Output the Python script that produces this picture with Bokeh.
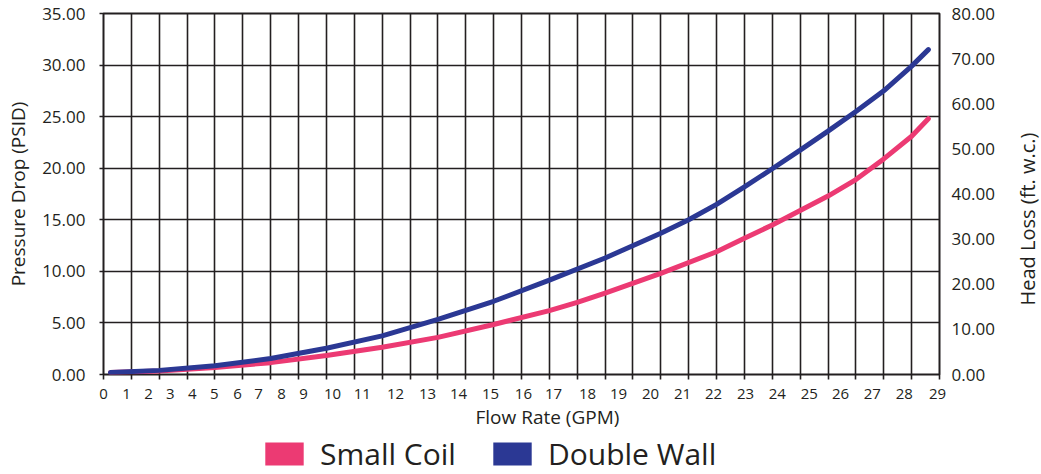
import math
from bokeh.plotting import figure
from bokeh.layouts import row, column
from bokeh.models import (Range1d, LinearAxis, FixedTicker, NumeralTickFormatter,
                          Legend, LegendItem, ColumnDataSource, Title)
from bokeh.embed import file_html
from bokeh.resources import INLINE

# ---- data (x in chart grid columns, y in PSID) ----
sc_pos = [0.25, 2, 4, 6, 8, 10, 12, 14, 16, 17, 18, 20, 22, 23, 24, 25, 26, 27, 28, 29, 29.6]
small_coil = [0.19, 0.35, 0.68, 1.15, 1.85, 2.65, 3.6, 4.85, 6.2, 7.0, 7.9, 9.8, 11.9,
              13.2, 14.5, 15.9, 17.3, 18.9, 20.9, 23.1, 24.8]
dw_pos = [0.25, 2, 4, 6, 8, 10, 12, 14, 16, 18, 20, 21, 22, 23, 24, 25, 26, 27, 28, 29, 29.6]
double_wall = [0.19, 0.4, 0.85, 1.55, 2.55, 3.75, 5.35, 7.1, 9.15, 11.3, 13.7, 15.0,
               16.5, 18.2, 19.95, 21.75, 23.6, 25.5, 27.5, 29.9, 31.5]

x_tick_labels = [str(i) for i in range(30)]
x_label_pos = [0.0, 0.83, 1.62, 2.40, 3.19, 3.98, 4.81, 5.56, 6.39, 7.18, 8.22,
               9.29, 10.48, 11.63, 12.74, 13.89, 15.07, 16.15, 17.37, 18.48,
               19.63, 20.78, 21.89, 23.04, 24.18, 25.33, 26.45, 27.59, 28.74, 29.93]
grid_cols = list(range(0, 31))
psid_ticks = [0, 5, 10, 15, 20, 25, 30, 35]
head_ticks = [0, 10, 20, 30, 40, 50, 60, 70, 80]

PINK = "#EC3A73"
BLUE = "#2B3894"
INK = "#231F20"
FONT = "Open Sans"

src_sc = ColumnDataSource(dict(x=sc_pos, y=small_coil))
src_dw = ColumnDataSource(dict(x=dw_pos, y=double_wall))

p = figure(frame_width=836, frame_height=361,
           min_border_left=103, min_border_right=72, min_border_top=13, min_border_bottom=60,
           x_range=Range1d(0, 30), y_range=Range1d(0, 35),
           output_backend="svg", toolbar_location=None, y_axis_location=None,
           x_axis_location=None)
p.extra_y_ranges = {"head": Range1d(0, 80)}
p.outline_line_color = INK
p.outline_line_width = 2
p.background_fill_color = "white"
p.border_fill_color = "white"

# grids
p.xgrid.ticker = FixedTicker(ticks=grid_cols)
p.ygrid.ticker = FixedTicker(ticks=psid_ticks)
for g in (p.xgrid, p.ygrid):
    g.grid_line_color = INK
    g.grid_line_width = 1.6
    g.grid_line_alpha = 1.0

# left axis
ly = LinearAxis(ticker=FixedTicker(ticks=psid_ticks),
                formatter=NumeralTickFormatter(format="0.00"),
                axis_label="Pressure Drop (PSID)")
ly.major_tick_out = 4
ly.major_tick_in = 0
ly.minor_tick_out = 0
ly.minor_tick_in = 0
ly.major_label_standoff = 14
ly.axis_label_standoff = 8
ly.axis_line_color = None
ly.major_tick_line_color = INK
ly.major_tick_line_width = 1.6
ly.major_label_text_font = FONT
ly.major_label_text_font_size = "17px"
ly.major_label_text_color = INK
ly.axis_label_text_font = FONT
ly.axis_label_text_font_size = "19px"
ly.axis_label_text_font_style = "normal"
ly.axis_label_text_color = INK
p.add_layout(ly, "left")

# right axis (its title is drawn in the narrow strip figure on the right)
ry = LinearAxis(y_range_name="head", ticker=FixedTicker(ticks=head_ticks),
                formatter=NumeralTickFormatter(format="0.00"))
ry.major_tick_out = 0
ry.major_tick_in = 0
ry.minor_tick_out = 0
ry.minor_tick_in = 0
ry.major_label_standoff = 12
ry.axis_line_color = None
ry.major_tick_line_color = None
ry.major_label_text_font = FONT
ry.major_label_text_font_size = "17px"
ry.major_label_text_color = INK
p.add_layout(ry, "right")

# bottom axis: labels at their printed spots, tick marks at grid columns
bx = LinearAxis(ticker=FixedTicker(ticks=x_label_pos, minor_ticks=grid_cols))
bx.major_label_overrides = {pos: lab for pos, lab in zip(x_label_pos, x_tick_labels)}
bx.major_tick_out = 0
bx.major_tick_in = 0
bx.major_tick_line_color = None
bx.minor_tick_out = 5
bx.minor_tick_in = 0
bx.minor_tick_line_color = INK
bx.minor_tick_line_width = 1.6
bx.axis_line_color = None
bx.major_label_standoff = 9
bx.major_label_text_font = FONT
bx.major_label_text_font_size = "15px"
bx.major_label_text_color = INK
p.add_layout(bx, "below")

# x axis title (offset to the right as in the original)
xt = Title(text="Flow Rate (GPM)", align="left", offset=372, standoff=0,
           text_font=FONT, text_font_size="19px", text_font_style="normal",
           text_color=INK)
p.add_layout(xt, "below")

# curves
p.line("x", "y", source=src_sc, line_color=PINK, line_width=5, line_cap="round")
p.line("x", "y", source=src_dw, line_color=BLUE, line_width=5, line_cap="round")

# narrow strip on the right holding the right-hand axis title (reads bottom-to-top)
p2 = figure(frame_width=1, frame_height=361, min_border_left=0, min_border_right=0,
            min_border_top=13, min_border_bottom=60,
            x_range=Range1d(0, 1), y_range=Range1d(0, 1),
            output_backend="svg", toolbar_location=None,
            x_axis_location=None, y_axis_location=None)
p2.outline_line_color = None
p2.xgrid.visible = False
p2.ygrid.visible = False
p2.border_fill_color = "white"
p2.background_fill_color = "white"
rt = Title(text="Head Loss (ft. w.c.)", align="left", offset=69, standoff=0,
           text_font=FONT, text_font_size="20px", text_font_style="normal",
           text_color=INK)
p2.add_layout(rt, "left")

# legend strip under the chart
p3 = figure(frame_width=1011, frame_height=40, min_border_left=0, min_border_right=0,
            min_border_top=0, min_border_bottom=0,
            x_range=Range1d(0, 1), y_range=Range1d(0, 1),
            output_backend="svg", toolbar_location=None,
            x_axis_location=None, y_axis_location=None)
p3.outline_line_color = None
p3.xgrid.visible = False
p3.ygrid.visible = False
p3.border_fill_color = "white"
p3.background_fill_color = "white"
nan = float("nan")
sw_pink = p3.quad(left=[nan], right=[nan], top=[nan], bottom=[nan],
                  fill_color=PINK, line_color=None)
sw_blue = p3.quad(left=[nan], right=[nan], top=[nan], bottom=[nan],
                  fill_color=BLUE, line_color=None)
legend = Legend(items=[LegendItem(label="Small Coil", renderers=[sw_pink]),
                       LegendItem(label="Double Wall", renderers=[sw_blue])],
                orientation="horizontal", location=(260, 0),
                glyph_width=48, glyph_height=29, label_height=23,
                label_standoff=12, spacing=32, padding=0, margin=0,
                border_line_color=None, background_fill_alpha=0,
                label_text_font=FONT, label_text_font_size="30px",
                label_text_color=INK, label_text_baseline="middle")
p3.add_layout(legend, "center")

layout = column(row(p, p2), p3)
open("out.html", "w").write(file_html(layout, INLINE))
